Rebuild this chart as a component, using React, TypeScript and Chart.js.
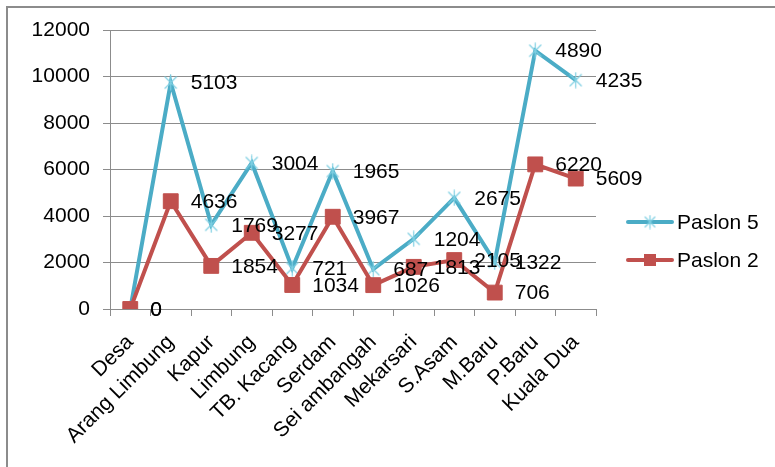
import React, { useEffect, useRef } from "react";
import { Chart, registerables } from "chart.js";

Chart.register(...registerables);

const categories = [
  "Desa",
  "Arang Limbung",
  "Kapur",
  "Limbung",
  "TB. Kacang",
  "Serdam",
  "Sei ambangah",
  "Mekarsari",
  "S.Asam",
  "M.Baru",
  "P.Baru",
  "Kuala Dua",
];
const paslon5 = [0, 5103, 1769, 3004, 721, 1965, 687, 1204, 2675, 1322, 4890, 4235];
const paslon2 = [0, 4636, 1854, 3277, 1034, 3967, 1026, 1813, 2105, 706, 6220, 5609];
const seriesNames = ["Paslon 5", "Paslon 2"];
const yMin = 0;
const yMax = 12000;
const yStep = 2000;

const TEAL = "#4BACC6";
const TEAL_MARK = "#7FCFE2";
const RED = "#C0504D";
const GRID = "#8C8C8C";
const FONT = '"Liberation Sans", Arial, sans-serif';
const FS = 21;

function makeAsterisk(size: number, color: string, lw: number) {
  const c = document.createElement("canvas");
  c.width = size;
  c.height = size;
  const g = c.getContext("2d")!;
  const m = size / 2;
  const r = size / 2 - 0.5;
  g.strokeStyle = color;
  g.lineWidth = lw;
  g.beginPath();
  g.moveTo(m, m - r);
  g.lineTo(m, m + r);
  const d = r * 0.75;
  g.moveTo(m - d, m - d);
  g.lineTo(m + d, m + d);
  g.moveTo(m + d, m - d);
  g.lineTo(m - d, m + d);
  g.stroke();
  return c;
}

export default function App() {
  const ref = useRef<HTMLCanvasElement>(null);

  useEffect(() => {
    const canvas = ref.current!;
    const star = makeAsterisk(17, TEAL_MARK, 1.2);
    const starLegend = makeAsterisk(15, TEAL_MARK, 1.2);

    const labelsPlugin = {
      id: "valueLabels",
      afterDatasetsDraw(chart: any) {
        const ctx = chart.ctx;
        ctx.save();
        ctx.font = `${FS}px ${FONT}`;
        ctx.fillStyle = "#000";
        ctx.textAlign = "left";
        ctx.textBaseline = "middle";
        chart.data.datasets.forEach((ds: any, i: number) => {
          const meta = chart.getDatasetMeta(i);
          meta.data.forEach((pt: any, j: number) => {
            ctx.fillText(String(ds.data[j]), pt.x + 20, pt.y + 1);
          });
        });
        ctx.restore();
      },
    };

    const legendPlugin = {
      id: "customLegend",
      afterDraw(chart: any) {
        const ctx = chart.ctx;
        const items = [
          { name: seriesNames[0], color: TEAL, y: 222, marker: "star" },
          { name: seriesNames[1], color: RED, y: 260, marker: "rect" },
        ];
        ctx.save();
        items.forEach((it) => {
          ctx.strokeStyle = it.color;
          ctx.lineWidth = 4;
          ctx.lineCap = "round";
          ctx.beginPath();
          ctx.moveTo(628, it.y);
          ctx.lineTo(672, it.y);
          ctx.stroke();
          if (it.marker === "star") {
            ctx.drawImage(starLegend, 650 - 7.5, it.y - 7.5);
          } else {
            ctx.fillStyle = it.color;
            ctx.fillRect(644, it.y - 6, 12, 12);
          }
          ctx.fillStyle = "#000";
          ctx.font = `${FS}px ${FONT}`;
          ctx.textAlign = "left";
          ctx.textBaseline = "middle";
          ctx.fillText(it.name, 677, it.y + 1);
        });
        ctx.restore();
      },
    };

    const chart = new Chart(canvas, {
      type: "line",
      data: {
        labels: categories,
        datasets: [
          {
            label: seriesNames[0],
            data: paslon5,
            borderColor: TEAL,
            backgroundColor: TEAL,
            borderWidth: 4,
            pointStyle: star as any,
            pointRadius: 8,
            pointHoverRadius: 8,
            tension: 0,
            order: 1,
          },
          {
            label: seriesNames[1],
            data: paslon2,
            borderColor: RED,
            backgroundColor: RED,
            borderWidth: 4,
            pointStyle: "rect",
            pointRadius: 10.5,
            pointHoverRadius: 10.5,
            pointBorderWidth: 1,
            tension: 0,
            order: 0,
          },
        ],
      },
      options: {
        responsive: false,
        animation: false,
        devicePixelRatio: 1,
        events: [],
        layout: { padding: { left: 0, top: 30, right: 179, bottom: 0 } },
        plugins: {
          legend: { display: false },
          tooltip: { enabled: false },
          title: { display: false },
        },
        scales: {
          x: {
            offset: true,
            grid: {
              offset: true,
              drawOnChartArea: false,
              drawTicks: true,
              tickLength: 7,
              color: GRID,
            },
            border: { color: GRID, width: 1 },
            ticks: {
              autoSkip: false,
              minRotation: 45,
              maxRotation: 45,
              color: "#000",
              font: { family: FONT, size: FS },
              padding: 14,
            },
            afterFit: (s: any) => {
              s.height = 467 - 309;
            },
          },
          y: {
            stacked: true,
            min: yMin,
            max: yMax,
            ticks: {
              stepSize: yStep,
              color: "#000",
              font: { family: FONT, size: FS },
              padding: 13,
              callback: (v: any) => String(v),
            },
            grid: { color: GRID, tickLength: 7 },
            border: { color: GRID, width: 1 },
            afterFit: (s: any) => {
              s.width = 110;
            },
          },
        },
      },
      plugins: [labelsPlugin, legendPlugin],
    });
    return () => chart.destroy();
  }, []);

  return (
    <div
      style={{
        position: "fixed",
        left: 0,
        top: 0,
        width: 775,
        height: 467,
        background: "#fff",
        overflow: "hidden",
      }}
    >
      <div
        style={{
          position: "absolute",
          left: 6,
          top: 6,
          width: 900,
          height: 600,
          borderLeft: `2px solid ${GRID}`,
          borderTop: `2px solid ${GRID}`,
        }}
      />
      <canvas
        ref={ref}
        width={775}
        height={467}
        style={{ position: "absolute", left: 0, top: 0 }}
      />
    </div>
  );
}
